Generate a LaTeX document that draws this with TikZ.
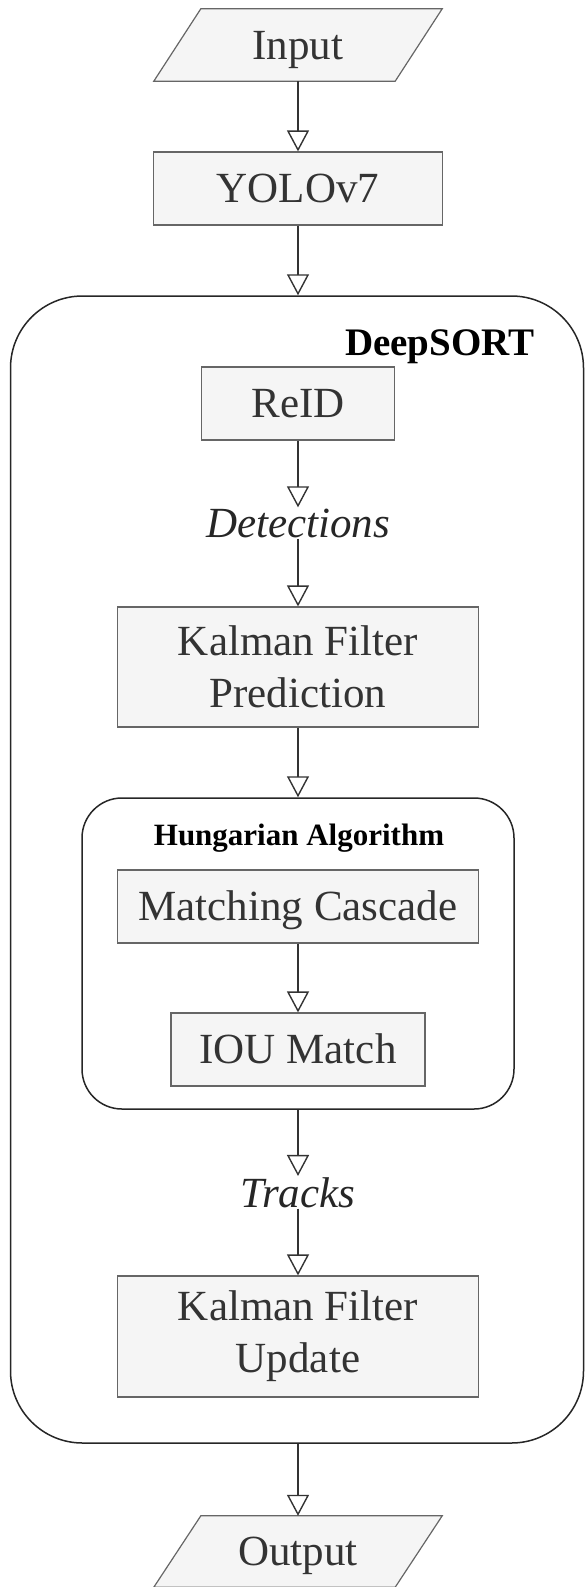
\documentclass[tikz,border=0pt]{standalone}
\usepackage{fontspec}
\setmainfont{Liberation Serif}
\usetikzlibrary{arrows.meta}
\definecolor{boxfill}{HTML}{F5F5F5}
\definecolor{boxline}{HTML}{666666}
\definecolor{boxtext}{HTML}{333333}

\begin{document}
\begin{tikzpicture}[x=1pt, y=-1pt,
    block/.style={draw=boxline, fill=boxfill, text=boxtext, line width=1.2pt, inner sep=0pt,
        font=\fontsize{43}{52}\selectfont, align=center},
    single/.style={text height=28.5pt, text depth=0pt},
    io/.style={text=boxtext, inner sep=0pt, font=\fontsize{43}{52}\selectfont, single},
    slant/.style={draw=boxline, fill=boxfill, line width=1.2pt},
    group/.style={draw=black!85, line width=1.5pt, rounded corners=#1, inner sep=0pt},
    flow/.style={draw=black!80, line width=1.4pt, -{Triangle[open, length=21pt, width=22pt]}},
    tag/.style={text=black!85, font=\fontsize{43}{52}\selectfont\itshape, inner sep=1pt, anchor=base}
]
    \useasboundingbox (0,0) rectangle (584,1587);

    % containers
    \node[group=72pt, minimum width=573pt, minimum height=1147pt] (deepsort) at (297,869.5) {};
    \node[anchor=base east, font=\fontsize{39}{46}\selectfont\bfseries] (dslabel) at (538,355) {DeepSORT};
    \node[group=40pt, minimum width=432pt, minimum height=311pt] (hung) at (298,953.5) {};
    \node[anchor=base, font=\fontsize{31}{36}\selectfont\bfseries] (hunglabel) at (299,845) {Hungarian Algorithm};

    % input and output parallelograms
    \node[io, minimum width=288pt, minimum height=72pt] (input) at (298,45) {};
    \draw[slant] ([xshift=47pt]input.north west) -- (input.north east)
        -- ([xshift=-47pt]input.south east) -- (input.south west) -- cycle;
    \node[io] (inputtext) at (input) {Input};
    \node[io, minimum width=288pt, minimum height=71pt] (output) at (298,1551.5) {};
    \draw[slant] ([xshift=47pt]output.north west) -- (output.north east)
        -- ([xshift=-47pt]output.south east) -- (output.south west) -- cycle;
    \node[io] (outputtext) at (output) {Output};

    % steps
    \node[block, single, minimum width=289pt, minimum height=73pt] (yolo) at (298,188.5) {YOLOv7};
    \node[block, single, minimum width=193pt, minimum height=73pt] (reid) at (298,403.5) {ReID};
    \node[tag] (det) at (298,537) {Detections};
    \node[block, minimum width=361pt, minimum height=120pt] (kfp) at (298,667) {Kalman Filter\\Prediction};
    \node[block, single, minimum width=361pt, minimum height=73pt] (match) at (298,906.5) {Matching Cascade};
    \node[block, single, minimum width=254pt, minimum height=73pt] (iou) at (298,1049.5) {IOU Match};
    \node[tag] (tracks) at (298,1207) {Tracks};
    \node[block, minimum width=361pt, minimum height=121pt] (kfu) at (298,1336.5) {Kalman Filter\\Update};

    \draw[flow] (input) -- (yolo);
    \draw[flow] (yolo) -- (yolo |- deepsort.north);
    \draw[flow] (reid) -- (det);
    \draw[flow] (det) -- (kfp);
    \draw[flow] (kfp) -- (hung.north);
    \draw[flow] (match) -- (iou);
    \draw[flow] (hung.south) -- (tracks);
    \draw[flow] (tracks) -- (kfu);
    \draw[flow] (output |- deepsort.south) -- (output);
\end{tikzpicture}
\end{document}
